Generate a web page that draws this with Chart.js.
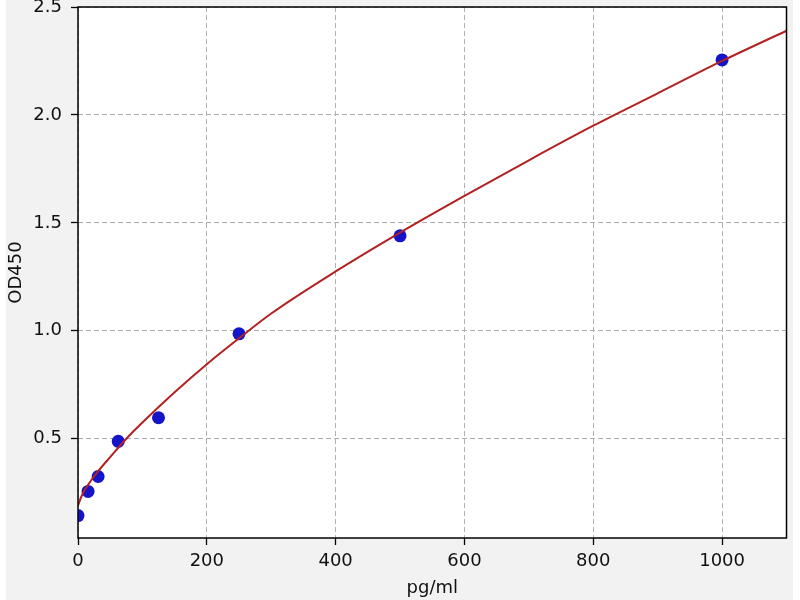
<!DOCTYPE html>
<html>
<head>
<meta charset="utf-8">
<script src="https://cdn.jsdelivr.net/npm/chart.js@4.4.0/dist/chart.umd.min.js"></script>
<style>
  html, body { margin: 0; padding: 0; background: #ffffff; }
  #wrap { position: absolute; left: 6px; top: 0; width: 787px; height: 600px; background: #f2f2f2; }
</style>
</head>
<body>
<div id="wrap"><canvas id="myChart" width="787" height="600"></canvas></div>
<script>
// standards
const stdConc = [0, 15.6, 31.25, 62.5, 125, 250, 500, 1000];
const stdOD = [0.144, 0.256, 0.325, 0.488, 0.597, 0.986, 1.44, 2.255];

// fitted curve
const fitConc = [0, 5, 10, 20, 30, 50, 75, 100, 150, 200, 250, 300, 400, 500, 600, 700, 800, 900, 1000, 1100];
const fitOD = [0.19, 0.23, 0.26, 0.305, 0.345, 0.415, 0.50, 0.575, 0.715, 0.845, 0.965, 1.08, 1.275, 1.455, 1.625, 1.79, 1.95, 2.10, 2.25, 2.39];

const xTicks = [0, 200, 400, 600, 800, 1000];
const yTicks = [0.5, 1.0, 1.5, 2.0, 2.5];

const toPts = (xs, ys) => xs.map((x, i) => ({ x: x, y: ys[i] }));

// white plot area + black frame
const frame = {
    id: 'frame',
    beforeDraw(chart) {
        const a = chart.chartArea, c = chart.ctx;
        c.save();
        c.fillStyle = '#ffffff';
        c.fillRect(a.left, a.top, a.right - a.left, a.bottom - a.top);
        c.restore();
    },
    afterDraw(chart) {
        const a = chart.chartArea, c = chart.ctx;
        c.save();
        c.strokeStyle = '#000000';
        c.lineWidth = 1.5;
        c.strokeRect(a.left, a.top, a.right - a.left, a.bottom - a.top);
        c.restore();
    }
};

const font = { family: 'DejaVu Sans', size: 18 };

const ctx = document.getElementById('myChart').getContext('2d');
const myChart = new Chart(ctx, {
    type: 'scatter',
    data: {
        datasets: [{
            label: 'fit',
            data: toPts(fitConc, fitOD),
            showLine: true,
            borderColor: '#b22222',
            borderWidth: 2,
            pointRadius: 0,
            cubicInterpolationMode: 'monotone',
            clip: 0
        }, {
            label: 'std',
            data: toPts(stdConc, stdOD),
            backgroundColor: '#1414c8',
            borderColor: '#1414c8',
            borderWidth: 0,
            pointRadius: 6.5,
            clip: 0
        }]
    },
    options: {
        responsive: false,
        animation: false,
        devicePixelRatio: 1,
        layout: { padding: { top: 7, right: 2, left: 0, bottom: 0 } },
        plugins: { legend: { display: false }, tooltip: { enabled: false } },
        scales: {
            x: {
                type: 'linear',
                min: 0,
                max: 1100,
                bounds: 'data',
                afterFit: function(s) { s.height = 62; s.paddingLeft = 0; s.paddingRight = 0; },
                afterBuildTicks: function(s) { s.ticks = xTicks.map(v => ({ value: v })); },
                ticks: { font: font, color: '#111111', padding: 6, maxRotation: 0,
                         callback: v => String(v) },
                grid: { color: '#b0b0b0', lineWidth: 1, tickLength: 7, tickColor: '#000000',
                        tickWidth: 1.3, tickBorderDash: [10, 0] },
                border: { display: false, dash: [5, 3] },
                title: { display: true, text: 'pg/ml', font: font, color: '#111111',
                         padding: { top: 0, bottom: 1 } }
            },
            y: {
                type: 'linear',
                min: 0.04,
                max: 2.5,
                bounds: 'data',
                afterFit: function(s) { s.width = 72; s.paddingTop = 0; s.paddingBottom = 0; },
                afterBuildTicks: function(s) { s.ticks = yTicks.map(v => ({ value: v })); },
                ticks: { font: font, color: '#111111', padding: 9,
                         callback: v => v.toFixed(1) },
                grid: { color: '#b0b0b0', lineWidth: 1, tickLength: 7, tickColor: '#000000',
                        tickWidth: 1.3, tickBorderDash: [10, 0] },
                border: { display: false, dash: [5, 3] },
                title: { display: true, text: 'OD450', font: font, color: '#111111',
                         padding: { top: 0, bottom: 0 } }
            }
        }
    },
    plugins: [frame]
});
</script>
</body>
</html>
